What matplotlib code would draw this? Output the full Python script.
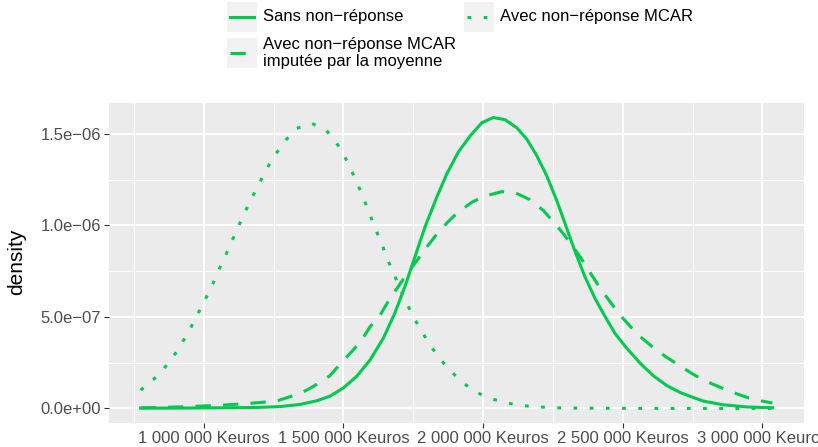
import numpy as np
import matplotlib
matplotlib.use("Agg")
import matplotlib.pyplot as plt
from matplotlib.ticker import FuncFormatter, MultipleLocator
from matplotlib.patches import Rectangle
from matplotlib.lines import Line2D

# Data (x in Keuros, density in units of 1e-06)
x_sans = [774000, 900000, 1000000, 1100000, 1200000, 1273000, 1345000, 1405000,
          1452000, 1500000, 1548000, 1596000, 1643000, 1684000, 1720000, 1756000,
          1792000, 1834000, 1870000, 1911000, 1954000, 1996000, 2037000, 2079000,
          2121000, 2157000, 2193000, 2228000, 2264000, 2295000, 2329000, 2365000,
          2401000, 2437000, 2472000, 2514000, 2562000, 2610000, 2658000, 2706000,
          2742000, 2789000, 2861000, 2945000, 3036000]
d_sans = [0.002, 0.002, 0.003, 0.004, 0.006, 0.010, 0.022, 0.042,
          0.067, 0.112, 0.176, 0.266, 0.384, 0.520, 0.665, 0.828,
          0.991, 1.154, 1.281, 1.400, 1.490, 1.562, 1.590, 1.578,
          1.534, 1.471, 1.380, 1.272, 1.136, 1.005, 0.860, 0.719,
          0.601, 0.502, 0.411, 0.330, 0.248, 0.178, 0.125, 0.087,
          0.066, 0.040, 0.020, 0.008, 0.004]

x_imput = [774000, 923000, 1040000, 1150000, 1260000, 1350000, 1393000, 1452000,
           1490000, 1530000, 1562000, 1596000, 1632000, 1662000, 1692000, 1728000,
           1764000, 1797000, 1828000, 1870000, 1906000, 1960000, 2001000, 2067000,
           2115000, 2168000, 2216000, 2258000, 2290000, 2347000, 2395000, 2418000,
           2454000, 2488000, 2529000, 2562000, 2616000, 2655000, 2711000, 2754000,
           2807000, 2855000, 2915000, 2968000, 3036000]
d_imput = [0.003, 0.009, 0.016, 0.026, 0.040, 0.085, 0.121, 0.179,
           0.245, 0.311, 0.366, 0.447, 0.511, 0.589, 0.656, 0.737,
           0.810, 0.879, 0.940, 1.013, 1.067, 1.127, 1.158, 1.185,
           1.179, 1.141, 1.082, 1.009, 0.950, 0.830, 0.715, 0.660,
           0.585, 0.515, 0.445, 0.393, 0.325, 0.282, 0.227, 0.185,
           0.143, 0.112, 0.076, 0.049, 0.030]

x_mcar = [774000, 826000, 864000, 898000, 929000, 957000, 983000, 1009000,
          1034000, 1057000, 1081000, 1104000, 1128000, 1152000, 1177000, 1203000,
          1230000, 1260000, 1294000, 1333000, 1387000, 1438000, 1475000, 1504000,
          1529000, 1553000, 1575000, 1596000, 1617000, 1639000, 1659000, 1682000,
          1704000, 1728000, 1754000, 1783000, 1813000, 1846000, 1885000, 1926000,
          1972000, 2024000, 2080000, 2137000, 2195000, 2253000, 2311000, 2450000,
          2600000, 2800000, 3036000]
d_mcar = [0.100, 0.167, 0.230, 0.299, 0.375, 0.451, 0.529, 0.607,
          0.686, 0.766, 0.846, 0.926, 1.007, 1.087, 1.165, 1.243,
          1.321, 1.395, 1.467, 1.531, 1.558, 1.522, 1.453, 1.379,
          1.299, 1.219, 1.138, 1.056, 0.974, 0.893, 0.811, 0.732,
          0.650, 0.571, 0.491, 0.415, 0.341, 0.270, 0.203, 0.143,
          0.091, 0.056, 0.031, 0.016, 0.009, 0.004, 0.002, 0.001,
          0.000, 0.000, 0.000]

labels = ["Sans non\u2212réponse",
          "Avec non\u2212réponse MCAR\nimputée par la moyenne",
          "Avec non\u2212réponse MCAR"]

GREEN = "#00C94F"
LW = 2.2
DASHED = (5, 4)
DOTTED = (1.2, 4.1)

plt.rcParams['font.family'] = ['Liberation Sans', 'DejaVu Sans']

W, H = 818, 447
fig = plt.figure(figsize=(W / 100, H / 100), dpi=100)

def fx(px):
    return px / W

def fy(py):
    return 1 - py / H

# panel
ax = fig.add_axes([fx(109), fy(423), (804 - 109) / W, (423 - 103) / H])
ax.set_facecolor("#EBEBEB")
for s in ax.spines.values():
    s.set_visible(False)

ax.plot(x_sans, np.array(d_sans) * 1e-6, color=GREEN, lw=LW,
        solid_joinstyle="round")
ax.plot(x_imput, np.array(d_imput) * 1e-6, color=GREEN, lw=LW, dashes=DASHED,
        dash_joinstyle="round")
ax.plot(x_mcar, np.array(d_mcar) * 1e-6, color=GREEN, lw=LW, dashes=DOTTED)

# ggplot style 5% expansion
xmin = min(x_sans + x_imput + x_mcar)
xmax = max(x_sans + x_imput + x_mcar)
xpad = (xmax - xmin) * 0.05
ax.set_xlim(xmin - xpad, xmax + xpad)
ymax = max(d_sans + d_imput + d_mcar) * 1e-6
ax.set_ylim(-ymax * 0.05, ymax * 1.05)

ax.xaxis.set_major_locator(MultipleLocator(500000))
ax.xaxis.set_minor_locator(MultipleLocator(250000))
ax.yaxis.set_major_locator(MultipleLocator(0.5e-6))
ax.yaxis.set_minor_locator(MultipleLocator(0.25e-6))

def xfmt(v, pos):
    return f"{v:,.0f}".replace(",", " ") + " Keuros"

def yfmt(v, pos):
    return f"{v:.1e}".replace("-", "\u2212")

ax.xaxis.set_major_formatter(FuncFormatter(xfmt))
ax.yaxis.set_major_formatter(FuncFormatter(yfmt))

ax.set_axisbelow(True)
ax.grid(which="major", color="white", lw=1.4)
ax.grid(which="minor", color="white", lw=0.7)
ax.tick_params(which="major", length=3.3, width=0.8, color="#333333",
               labelcolor="#4D4D4D", labelsize=12, pad=2.2)
ax.tick_params(which="minor", length=0)

fig.text(fx(17), fy(262), "density", rotation=90, ha="center", va="center",
         fontsize=15, color="black")

# legend drawn by hand, ggplot style keys
keys = [(227, 2, None, labels[0]),
        (227, 38, DASHED, labels[1]),
        (464, 2, DOTTED, labels[2])]
for kx, ky, dash, lab in keys:
    fig.add_artist(Rectangle((fx(kx), fy(ky + 30)), 30 / W, 30 / H,
                             transform=fig.transFigure, facecolor="#F2F2F2",
                             edgecolor="none"))
    ln = Line2D([fx(kx + 3), fx(kx + 27)], [fy(ky + 15), fy(ky + 15)],
                transform=fig.transFigure, color=GREEN, lw=LW)
    if dash is not None:
        ln.set_dashes(dash)
    fig.add_artist(ln)
    fig.text(fx(kx + 36), fy(ky + 15), lab, ha="left", va="center",
             fontsize=12, color="black", linespacing=1.2)

fig.savefig("out.png", dpi=100, facecolor="white")
